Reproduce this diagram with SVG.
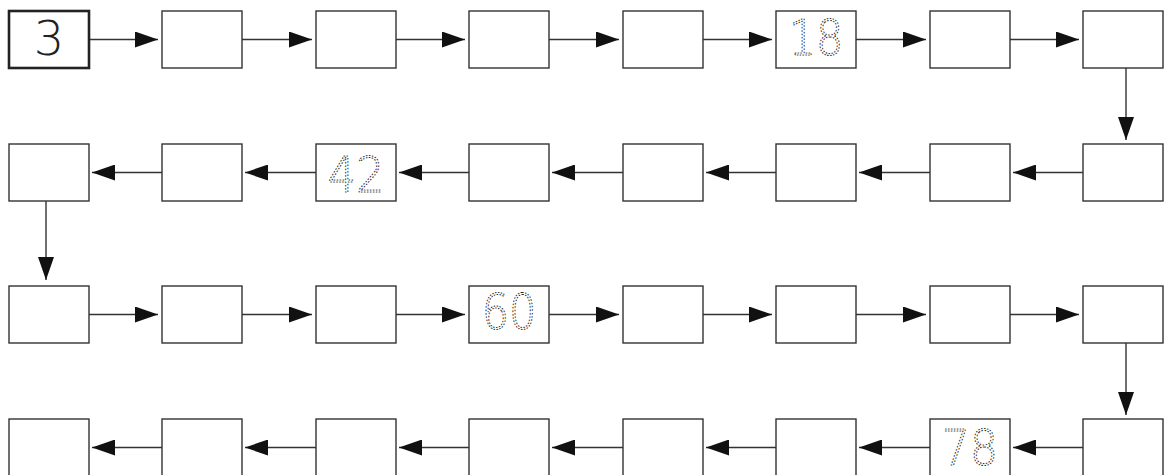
<svg xmlns="http://www.w3.org/2000/svg" width="1169" height="475" viewBox="0 0 1169 475">
<style>
.b{fill:#fff;stroke:#333;stroke-width:1.4}
.bb{fill:#fff;stroke:#222;stroke-width:2.6}
.c line{stroke:#333;stroke-width:1.4}
.t{font-family:"DejaVu Sans",sans-serif;font-weight:200;font-size:48px;text-anchor:middle;fill:#222}
.d{font-family:"DejaVu Sans",sans-serif;font-weight:200;font-size:50px;text-anchor:middle;fill:none;stroke:#222;stroke-width:1.1;stroke-dasharray:0.7 2.6;stroke-linecap:round;opacity:0.99}
</style>
<defs>
<marker id="a" markerUnits="userSpaceOnUse" markerWidth="24" markerHeight="16" refX="23" refY="8" orient="auto"><path d="M0,0 L23,8 L0,16 z" fill="#111"/></marker>
</defs>
<g id="n1"><rect class="bb" x="9" y="11" width="80" height="57"/><text class="t" x="49" y="55">3</text></g>
<g id="n2"><rect class="b" x="162" y="11" width="80" height="57"/></g>
<g id="n3"><rect class="b" x="316" y="11" width="80" height="57"/></g>
<g id="n4"><rect class="b" x="469" y="11" width="80" height="57"/></g>
<g id="n5"><rect class="b" x="623" y="11" width="80" height="57"/></g>
<g id="n6"><rect class="b" x="776" y="11" width="80" height="57"/><text class="d" transform="translate(816 55) scale(0.86 1)">18</text></g>
<g id="n7"><rect class="b" x="930" y="11" width="80" height="57"/></g>
<g id="n8"><rect class="b" x="1083" y="11" width="80" height="57"/></g>
<g id="n9"><rect class="b" x="1083" y="144" width="80" height="57"/></g>
<g id="n10"><rect class="b" x="930" y="144" width="80" height="57"/></g>
<g id="n11"><rect class="b" x="776" y="144" width="80" height="57"/></g>
<g id="n12"><rect class="b" x="623" y="144" width="80" height="57"/></g>
<g id="n13"><rect class="b" x="469" y="144" width="80" height="57"/></g>
<g id="n14"><rect class="b" x="316" y="144" width="80" height="57"/><text class="d" transform="translate(356 192) scale(0.9 1)">42</text></g>
<g id="n15"><rect class="b" x="162" y="144" width="80" height="57"/></g>
<g id="n16"><rect class="b" x="9" y="144" width="80" height="57"/></g>
<g id="n17"><rect class="b" x="9" y="286" width="80" height="57"/></g>
<g id="n18"><rect class="b" x="162" y="286" width="80" height="57"/></g>
<g id="n19"><rect class="b" x="316" y="286" width="80" height="57"/></g>
<g id="n20"><rect class="b" x="469" y="286" width="80" height="57"/><text class="d" transform="translate(509 329) scale(0.86 1)">60</text></g>
<g id="n21"><rect class="b" x="623" y="286" width="80" height="57"/></g>
<g id="n22"><rect class="b" x="776" y="286" width="80" height="57"/></g>
<g id="n23"><rect class="b" x="930" y="286" width="80" height="57"/></g>
<g id="n24"><rect class="b" x="1083" y="286" width="80" height="57"/></g>
<g id="n25"><rect class="b" x="1083" y="419" width="80" height="57"/></g>
<g id="n26"><rect class="b" x="930" y="419" width="80" height="57"/><text class="d" transform="translate(970 465) scale(0.88 1)">78</text></g>
<g id="n27"><rect class="b" x="776" y="419" width="80" height="57"/></g>
<g id="n28"><rect class="b" x="623" y="419" width="80" height="57"/></g>
<g id="n29"><rect class="b" x="469" y="419" width="80" height="57"/></g>
<g id="n30"><rect class="b" x="316" y="419" width="80" height="57"/></g>
<g id="n31"><rect class="b" x="162" y="419" width="80" height="57"/></g>
<g id="n32"><rect class="b" x="9" y="419" width="80" height="57"/></g>
<g id="connectors" class="c">
<line x1="90" y1="39.5" x2="158" y2="39.5" marker-end="url(#a)"/>
<line x1="242" y1="39.5" x2="312" y2="39.5" marker-end="url(#a)"/>
<line x1="396" y1="39.5" x2="465" y2="39.5" marker-end="url(#a)"/>
<line x1="549" y1="39.5" x2="619" y2="39.5" marker-end="url(#a)"/>
<line x1="703" y1="39.5" x2="772" y2="39.5" marker-end="url(#a)"/>
<line x1="856" y1="39.5" x2="926" y2="39.5" marker-end="url(#a)"/>
<line x1="1010" y1="39.5" x2="1079" y2="39.5" marker-end="url(#a)"/>
<line x1="1126" y1="68" x2="1126" y2="140" marker-end="url(#a)"/>
<line x1="1083" y1="172.5" x2="1013" y2="172.5" marker-end="url(#a)"/>
<line x1="930" y1="172.5" x2="859" y2="172.5" marker-end="url(#a)"/>
<line x1="776" y1="172.5" x2="706" y2="172.5" marker-end="url(#a)"/>
<line x1="623" y1="172.5" x2="552" y2="172.5" marker-end="url(#a)"/>
<line x1="469" y1="172.5" x2="399" y2="172.5" marker-end="url(#a)"/>
<line x1="316" y1="172.5" x2="245" y2="172.5" marker-end="url(#a)"/>
<line x1="162" y1="172.5" x2="92" y2="172.5" marker-end="url(#a)"/>
<line x1="46" y1="201" x2="46" y2="280" marker-end="url(#a)"/>
<line x1="89" y1="314.5" x2="158" y2="314.5" marker-end="url(#a)"/>
<line x1="242" y1="314.5" x2="312" y2="314.5" marker-end="url(#a)"/>
<line x1="396" y1="314.5" x2="465" y2="314.5" marker-end="url(#a)"/>
<line x1="549" y1="314.5" x2="619" y2="314.5" marker-end="url(#a)"/>
<line x1="703" y1="314.5" x2="772" y2="314.5" marker-end="url(#a)"/>
<line x1="856" y1="314.5" x2="926" y2="314.5" marker-end="url(#a)"/>
<line x1="1010" y1="314.5" x2="1079" y2="314.5" marker-end="url(#a)"/>
<line x1="1126" y1="343" x2="1126" y2="415" marker-end="url(#a)"/>
<line x1="1083" y1="447.5" x2="1013" y2="447.5" marker-end="url(#a)"/>
<line x1="930" y1="447.5" x2="859" y2="447.5" marker-end="url(#a)"/>
<line x1="776" y1="447.5" x2="706" y2="447.5" marker-end="url(#a)"/>
<line x1="623" y1="447.5" x2="552" y2="447.5" marker-end="url(#a)"/>
<line x1="469" y1="447.5" x2="399" y2="447.5" marker-end="url(#a)"/>
<line x1="316" y1="447.5" x2="245" y2="447.5" marker-end="url(#a)"/>
<line x1="162" y1="447.5" x2="92" y2="447.5" marker-end="url(#a)"/>
</g>
</svg>
